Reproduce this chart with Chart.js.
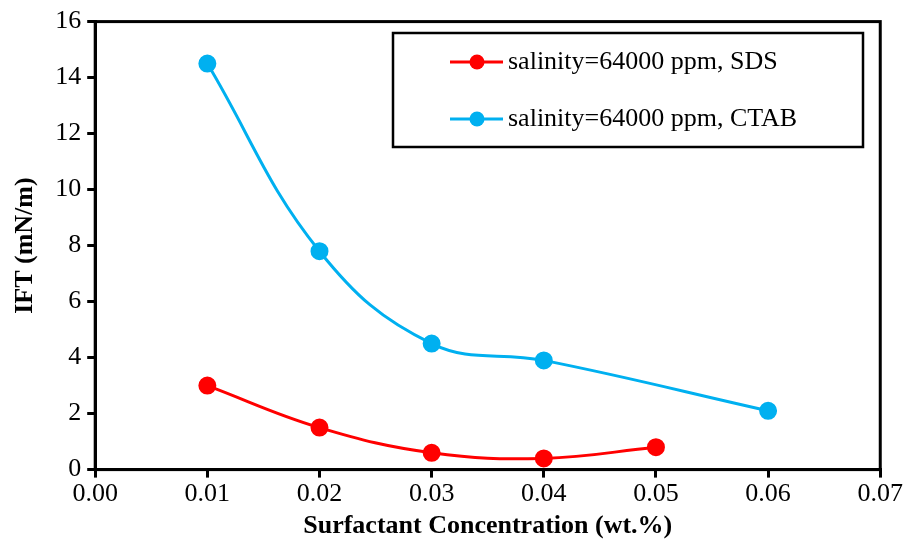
<!DOCTYPE html>
<html>
<head>
<meta charset="utf-8">
<script src="https://cdn.jsdelivr.net/npm/chart.js@4.4.0/dist/chart.umd.min.js"></script>
<style>
  html, body { margin: 0; padding: 0; background: #fff; }
</style>
</head>
<body>
<canvas id="ift" width="904" height="542"></canvas>
<script>
const sdsConc = [0.01, 0.02, 0.03, 0.04, 0.05];
const sdsIft = [3.0, 1.5, 0.6, 0.4, 0.8];
const ctabConc = [0.01, 0.02, 0.03, 0.04, 0.06];
const ctabIft = [14.5, 7.8, 4.5, 3.9, 2.1];
const seriesNames = ['salinity=64000 ppm, SDS', 'salinity=64000 ppm, CTAB'];

const serif = "'Liberation Serif', 'Times New Roman', serif";
const fs = 26;

// frame around plot area + boxed legend
const framePlugin = {
  id: 'frame',
  afterDraw(chart) {
    const ctx = chart.ctx;
    const a = chart.chartArea;
    ctx.save();
    ctx.strokeStyle = '#000';
    ctx.lineWidth = 3;
    ctx.strokeRect(a.left, a.top, a.right - a.left, a.bottom - a.top);

    // legend box
    ctx.lineWidth = 2.5;
    ctx.fillStyle = '#fff';
    ctx.fillRect(393, 33, 470, 114);
    ctx.strokeRect(393, 33, 470, 114);
    ctx.font = fs + 'px ' + serif;
    ctx.textBaseline = 'middle';
    const rows = [62, 119];
    chart.data.datasets.forEach((ds, i) => {
      const y = rows[i];
      ctx.strokeStyle = ds.borderColor;
      ctx.lineWidth = 3;
      ctx.beginPath();
      ctx.moveTo(450, y);
      ctx.lineTo(503, y);
      ctx.stroke();
      ctx.fillStyle = ds.backgroundColor;
      ctx.beginPath();
      ctx.arc(477, y, 7.5, 0, Math.PI * 2);
      ctx.fill();
      ctx.fillStyle = '#000';
      ctx.fillText(ds.label, 508, y);
    });
    ctx.restore();
  }
};

new Chart(document.getElementById('ift'), {
  type: 'scatter',
  data: {
    datasets: [
      {
        label: seriesNames[0],
        data: sdsConc.map((x, i) => ({ x: x, y: sdsIft[i] })),
        showLine: true,
        borderColor: '#ff0000',
        backgroundColor: '#ff0000',
        borderWidth: 3,
        pointRadius: 7.5,
        pointHoverRadius: 7.5,
        tension: 0.4
      },
      {
        label: seriesNames[1],
        data: ctabConc.map((x, i) => ({ x: x, y: ctabIft[i] })),
        showLine: true,
        borderColor: '#00b0f0',
        backgroundColor: '#00b0f0',
        borderWidth: 3,
        pointRadius: 7.5,
        pointHoverRadius: 7.5,
        tension: 0.4
      }
    ]
  },
  options: {
    responsive: false,
    animation: false,
    devicePixelRatio: 1,
    layout: { padding: { top: 21, right: 22, left: 10, bottom: 0 } },
    plugins: {
      legend: { display: false },
      tooltip: { enabled: false }
    },
    scales: {
      x: {
        type: 'linear',
        min: 0,
        max: 0.07,
        ticks: {
          stepSize: 0.01,
          color: '#000',
          font: { family: serif, size: fs },
          padding: 1,
          callback: v => v.toFixed(2)
        },
        grid: { drawOnChartArea: false, drawTicks: true, tickLength: 8, color: '#000', lineWidth: 3 },
        border: { display: true, color: '#000', width: 3 },
        title: {
          display: true,
          text: 'Surfactant Concentration (wt.%)',
          color: '#000',
          font: { family: serif, size: fs, weight: 'bold' },
          padding: { top: 0, bottom: 0 }
        }
      },
      y: {
        min: 0,
        max: 16,
        ticks: {
          stepSize: 2,
          color: '#000',
          font: { family: serif, size: fs },
          padding: 6
        },
        grid: { drawOnChartArea: false, drawTicks: true, tickLength: 8, color: '#000', lineWidth: 3 },
        border: { display: true, color: '#000', width: 3 },
        title: {
          display: true,
          text: 'IFT (mN/m)',
          color: '#000',
          font: { family: serif, size: fs, weight: 'bold' },
          padding: { top: 0, bottom: 8 }
        }
      }
    }
  },
  plugins: [framePlugin]
});
</script>
</body>
</html>
